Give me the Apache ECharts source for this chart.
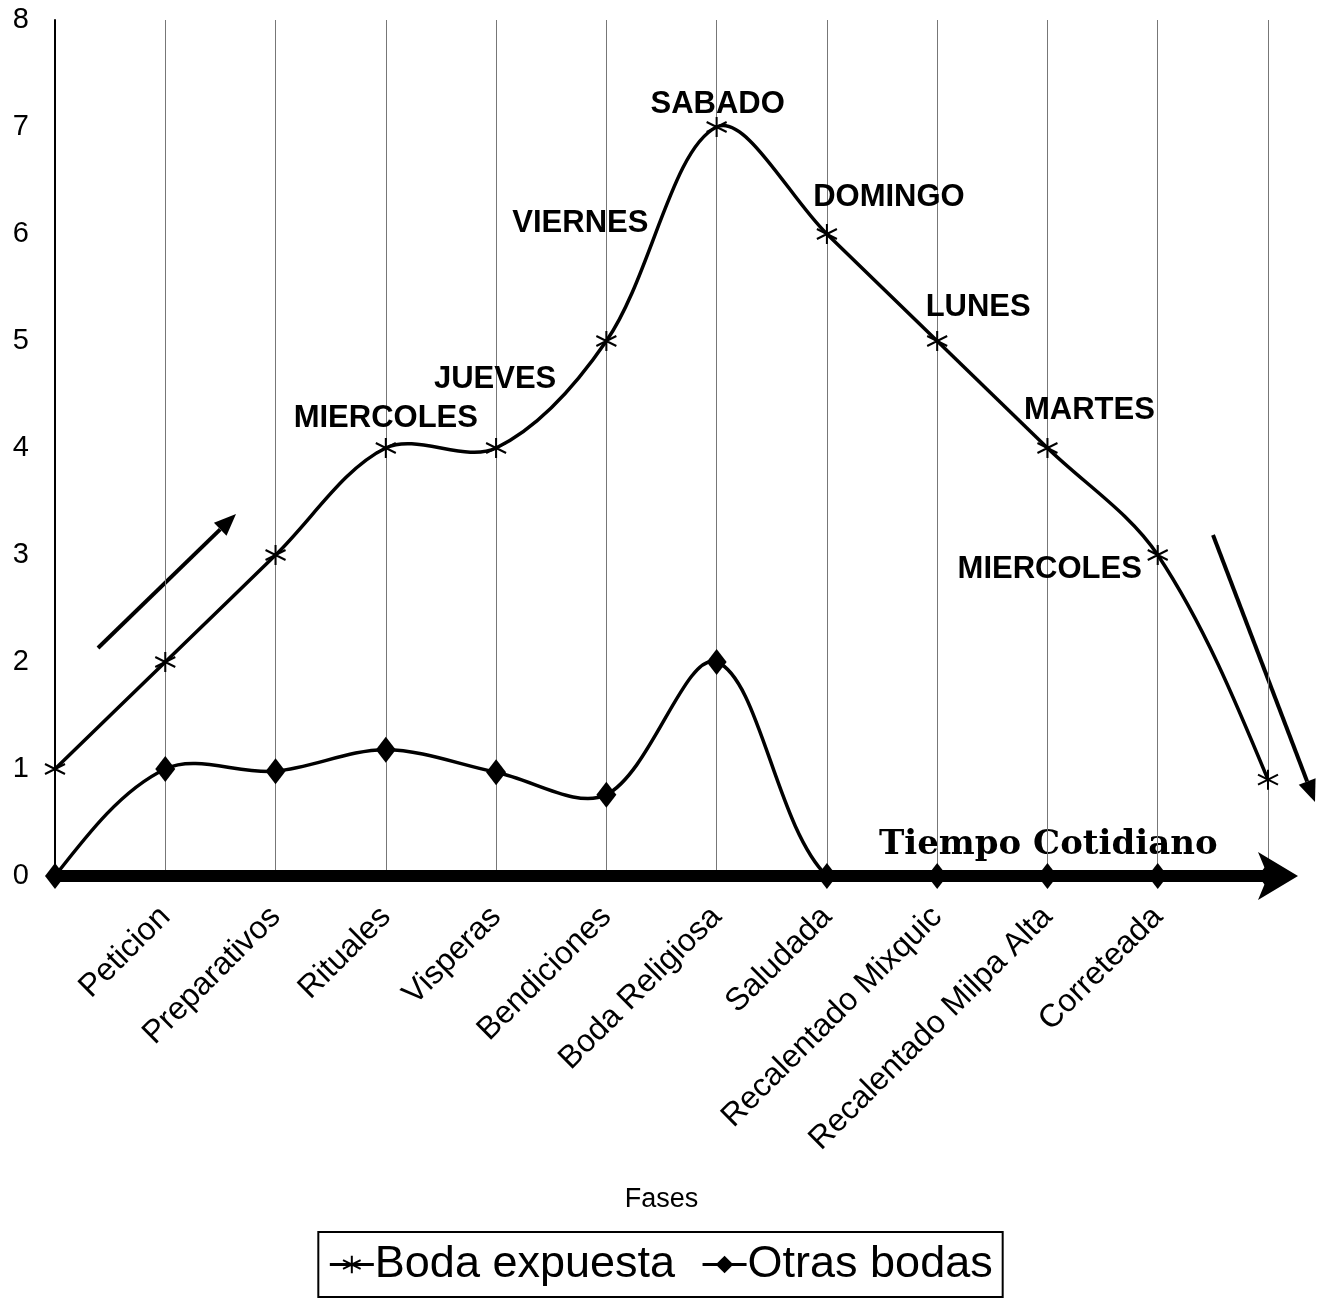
<!DOCTYPE html>
<html>
<head>
<meta charset="utf-8">
<script src="https://cdn.jsdelivr.net/npm/echarts@6/dist/echarts.min.js"></script>
<style>
html,body{margin:0;padding:0;background:#fff;}
#chart{width:1321px;height:1302px;}
</style>
</head>
<body>
<div id="chart"></div>
<script>
// ---- data ----
const categories = ['', 'Peticion', 'Preparativos', 'Rituales', 'Visperas', 'Bendiciones', 'Boda Religiosa', 'Saludada', 'Recalentado Mixquic', 'Recalentado Milpa Alta', 'Correteada', ''];
const bodaExpuesta = [1, 2, 3, 4, 4, 5, 7, 6, 5, 4, 3, 0.9];
const otrasBodas = [0, 1, 0.98, 1.18, 0.97, 0.76, 2, 0, 0, 0, 0, 0];
const dayLabels = ['', '', '', 'MIERCOLES', 'JUEVES', 'VIERNES', 'SABADO', 'DOMINGO', 'LUNES', 'MARTES', 'MIERCOLES', ''];
const yTicks = [0, 1, 2, 3, 4, 5, 6, 7, 8];
const seriesNames = ['Boda expuesta', 'Otras bodas'];
const xAxisName = 'Fases';
const annotationText = 'Tiempo Cotidiano';

// ---- styling ----
const FONT = 'Liberation Sans, Arial, sans-serif';
const dayLabelOffsets = [null, null, null, [0, -30], [-1, -69], [-26, -118], [1, -23], [62, -37], [41, -34], [42, -38], [-108, 14], null];

const bodaData = bodaExpuesta.map((v, i) => {
  const item = { value: v };
  if (dayLabels[i]) {
    item.label = {
      show: true,
      position: 'inside',
      formatter: dayLabels[i],
      offset: dayLabelOffsets[i],
      fontSize: 31,
      fontWeight: 'bold',
      fontFamily: FONT,
      color: '#000'
    };
  }
  return item;
});

// Spreadsheet-style smoothed curve through the points, positioned with the chart's own scales
function curveSeries(values, id) {
  const n = values.length;
  function ctrl(api) {
    const P = values.map((v, k) => api.coord([k, v]));
    const dist = (a, b) => Math.hypot(a[0] - b[0], a[1] - b[1]);
    const cin = [], cout = [];
    for (let k = 1; k < n - 1; k++) {
      const d = [P[k + 1][0] - P[k - 1][0], P[k + 1][1] - P[k - 1][1]];
      const lp = dist(P[k], P[k - 1]), ln = dist(P[k], P[k + 1]);
      const s = 1 / 3, tot = lp + ln;
      cout[k] = [P[k][0] + d[0] * s * ln / tot, P[k][1] + d[1] * s * ln / tot];
      cin[k] = [P[k][0] - d[0] * s * lp / tot, P[k][1] - d[1] * s * lp / tot];
    }
    cout[0] = [(P[0][0] + cin[1][0]) / 2, (P[0][1] + cin[1][1]) / 2];
    cin[n - 1] = [(P[n - 1][0] + cout[n - 2][0]) / 2, (P[n - 1][1] + cout[n - 2][1]) / 2];
    return { P, cin, cout };
  }
  return {
    id: id,
    type: 'custom',
    silent: true,
    z: 2,
    data: values.map((v, i) => [i, v]),
    encode: { x: 0, y: 1 },
    renderItem: function (params, api) {
      const i = params.dataIndex;
      if (i >= n - 1) return null;
      const c = ctrl(api);
      const base = api.coord([0, 0])[1];
      return {
        type: 'bezierCurve',
        shape: {
          x1: c.P[i][0], y1: c.P[i][1],
          cpx1: c.cout[i][0], cpy1: Math.min(c.cout[i][1], base),
          cpx2: c.cin[i + 1][0], cpy2: Math.min(c.cin[i + 1][1], base),
          x2: c.P[i + 1][0], y2: c.P[i + 1][1]
        },
        style: { stroke: '#000', lineWidth: 3.5, fill: null }
      };
    }
  };
}

function arrow(x1, y1, x2, y2) {
  const a = Math.atan2(y2 - y1, x2 - x1);
  const L = 22, W = 9;
  const bx = x2 - L * Math.cos(a), by = y2 - L * Math.sin(a);
  const nx = -Math.sin(a), ny = Math.cos(a);
  return [
    { type: 'line', shape: { x1: x1, y1: y1, x2: bx, y2: by }, style: { stroke: '#000', lineWidth: 4 } },
    { type: 'polygon', shape: { points: [[x2, y2], [bx + W * nx, by + W * ny], [bx - W * nx, by - W * ny]] }, style: { fill: '#000' } }
  ];
}

const chart = echarts.init(document.getElementById('chart'), null, { renderer: 'canvas' });
chart.setOption({
  backgroundColor: '#fff',
  animation: false,
  grid: { left: 55, right: 53, top: 20, bottom: 426, containLabel: false },
  xAxis: {
    type: 'category',
    data: categories,
    boundaryGap: false,
    name: xAxisName,
    nameLocation: 'middle',
    nameGap: 310,
    nameTextStyle: { fontSize: 27, color: '#000', fontFamily: FONT },
    axisLine: {
      show: true,
      symbol: ['none', 'arrow'],
      symbolSize: [36, 40],
      symbolOffset: [0, 30],
      lineStyle: { color: '#000', width: 12 }
    },
    axisTick: { show: false },
    axisLabel: {
      interval: 0,
      rotate: 45,
      margin: 36,
      fontSize: 32,
      color: '#000',
      fontFamily: FONT
    },
    splitLine: { show: true, lineStyle: { color: '#777', width: 1 } }
  },
  yAxis: {
    type: 'value',
    min: yTicks[0],
    max: yTicks[yTicks.length - 1],
    interval: 1,
    axisLine: { show: true, lineStyle: { color: '#000', width: 2 } },
    axisTick: { show: false },
    axisLabel: { fontSize: 29, color: '#000', margin: 26, fontFamily: FONT },
    splitLine: { show: false }
  },
  legend: {
    data: seriesNames,
    bottom: 5,
    left: 'center',
    borderColor: '#000',
    borderWidth: 2,
    padding: [10, 10, 10, 10],
    itemGap: 26,
    itemWidth: 44,
    itemHeight: 22,
    lineStyle: { color: '#000', width: 3, opacity: 1 },
    textStyle: { fontSize: 45, color: '#000', fontFamily: FONT, padding: [0, 0, 0, -4] }
  },
  series: [
    curveSeries(bodaExpuesta, 'bodaCurve'),
    curveSeries(otrasBodas, 'otrasCurve'),
    {
      name: seriesNames[0],
      type: 'line',
      data: bodaData,
      symbol: 'path://M0,-10L0,10M-8.66,-5L8.66,5M-8.66,5L8.66,-5',
      symbolSize: 20,
      showAllSymbol: true,
      lineStyle: { color: '#000', width: 3.5, opacity: 0 },
      itemStyle: { color: '#000', borderColor: '#000', borderWidth: 2 },
      z: 3
    },
    {
      name: seriesNames[1],
      type: 'line',
      data: otrasBodas,
      symbol: 'diamond',
      symbolSize: [20, 26],
      showAllSymbol: true,
      lineStyle: { color: '#000', width: 3.5, opacity: 0 },
      itemStyle: { color: '#000' },
      z: 3
    }
  ],
  graphic: [
    {
      type: 'text',
      left: 879,
      top: 828,
      style: {
        text: annotationText,
        fontSize: 34,
        fontWeight: 'bold',
        fontFamily: 'DejaVu Serif, Liberation Serif, serif',
        fill: '#000'
      }
    },
    { type: 'group', children: arrow(98, 648, 236, 514) },
    { type: 'group', children: arrow(1213, 535, 1315, 802) }
  ]
});
</script>
</body>
</html>
